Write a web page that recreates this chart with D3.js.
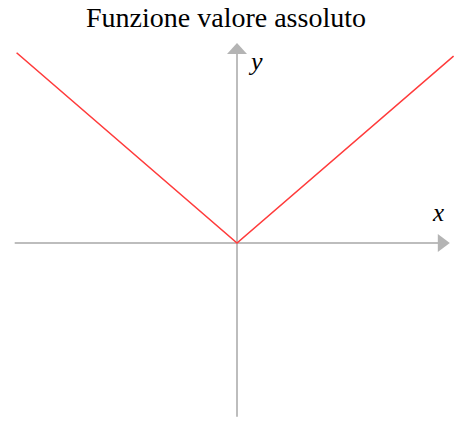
<!DOCTYPE html>
<html>
<head>
<meta charset="utf-8">
<script src="https://cdn.jsdelivr.net/npm/d3@7"></script>
<style>
  html, body { margin: 0; padding: 0; background: #fff; }
  svg { display: block; }
  .serif { font-family: "Liberation Serif", "Times New Roman", Times, "DejaVu Serif", serif; }
</style>
</head>
<body>
<svg id="chart" width="454" height="421"></svg>
<script>
// y = |x| sampled at its ends and at the vertex
const xValues = [-5.8, 0, 5.7];
const yValues = [5.8, 0, 5.7];
const title = "Funzione valore assoluto";
const axisNames = ["x", "y"];

const svg = d3.select("#chart");

// 38 px per unit horizontally, 32.8 px per unit vertically, origin at (237, 243)
const x = d3.scaleLinear().domain([-6, 6]).range([237 - 228, 237 + 228]);
const y = d3.scaleLinear().domain([-5.3, 6]).range([243 + 5.3 * 32.8, 243 - 6 * 32.8]);

// title
svg.append("text")
  .attr("class", "serif")
  .attr("x", 226).attr("y", 27)
  .attr("text-anchor", "middle")
  .attr("font-size", 28)
  .attr("fill", "#000")
  .text(title);

const axisColor = "#bdbdbd";
const arrowColor = "#b4b4b4";

// horizontal axis
const xEnd = 5.6;
svg.append("line")
  .attr("x1", x(-5.85)).attr("x2", x(xEnd) - 8)
  .attr("y1", y(0)).attr("y2", y(0))
  .attr("stroke", axisColor).attr("stroke-width", 2);
// vertical axis
const yEnd = 6.1;
svg.append("line")
  .attr("x1", x(0)).attr("x2", x(0))
  .attr("y1", y(-5.3)).attr("y2", y(yEnd) + 8)
  .attr("stroke", axisColor).attr("stroke-width", 2);

// arrow heads
const ax = x(xEnd), ay = y(0);
svg.append("path")
  .attr("d", `M${ax - 12},${ay - 9}L${ax},${ay}L${ax - 12},${ay + 9}Z`)
  .attr("fill", arrowColor);
const bx = x(0), by = y(yEnd);
svg.append("path")
  .attr("d", `M${bx - 10},${by + 11}L${bx},${by}L${bx + 10},${by + 11}Z`)
  .attr("fill", arrowColor);

// axis names
svg.append("text")
  .attr("class", "serif")
  .attr("x", 433).attr("y", 221)
  .attr("font-style", "italic")
  .attr("font-size", 25)
  .text(axisNames[0]);
svg.append("text")
  .attr("class", "serif")
  .attr("x", 251).attr("y", 70)
  .attr("font-style", "italic")
  .attr("font-size", 26)
  .text(axisNames[1]);

// the curve
const pts = xValues.map((v, i) => [v, yValues[i]]);
svg.append("path")
  .datum(pts)
  .attr("d", d3.line().x(d => x(d[0])).y(d => y(d[1])))
  .attr("fill", "none")
  .attr("stroke", "#ff3b3b")
  .attr("stroke-width", 1.6);
</script>
</body>
</html>
